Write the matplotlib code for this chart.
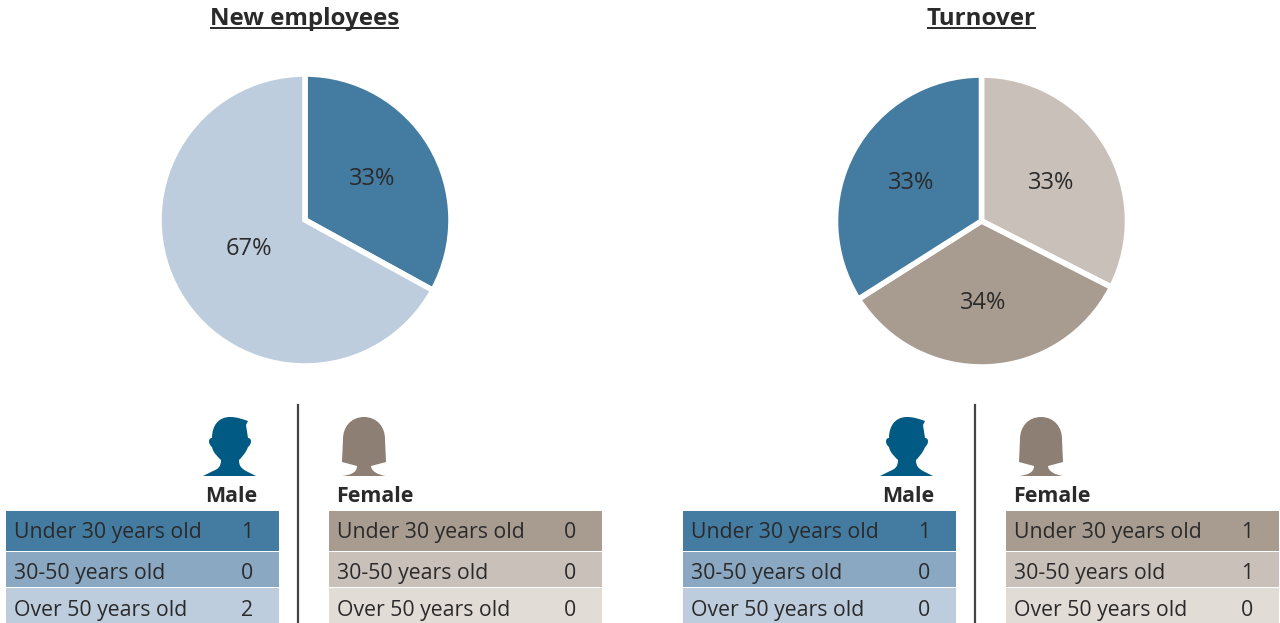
#!/usr/bin/env python3
"""New employees and turnover by gender and age: two pies and four small tables."""

import matplotlib
matplotlib.use("Agg")
import matplotlib.pyplot as plt
from matplotlib.patches import PathPatch, Rectangle
from matplotlib.path import Path

W, H = 1280, 623

titles = ["New employees", "Turnover"]

new_shares = [33, 67]
new_labels = ["33%", "67%"]
new_colors = ["#447ba1", "#bdcddd"]
# slice sizes as drawn in the picture, the printed labels are rounded differently
turnover_shares = [32.5, 33.5, 34]
turnover_labels = ["33%", "34%", "33%"]
turnover_colors = ["#c9c0ba", "#a89b90", "#447ba1"]

age_groups = ["Under 30 years old", "30-50 years old", "Over 50 years old"]
new_male = [1, 0, 2]
new_female = [0, 0, 0]
turnover_male = [1, 0, 0]
turnover_female = [1, 1, 0]

male_colors = ["#447ba1", "#8ba8c2", "#bdcddd"]
female_colors = ["#a89b90", "#c9c0ba", "#e1dcd6"]

TEXT = "#2b2a2b"
plt.rcParams["font.family"] = ["Open Sans", "DejaVu Sans"]

MALE_ICON = [
    (Path.MOVETO, (27, 0)), (Path.CURVE4, (34, 0)), (Path.CURVE4, (39, 2)), (Path.CURVE4, (45, 4)),
    (Path.LINETO, (43, 8)), (Path.LINETO, (45, 21)), (Path.CURVE4, (49, 21)), (Path.CURVE4, (49, 27)),
    (Path.CURVE4, (45, 30)), (Path.CURVE4, (43, 36)), (Path.CURVE4, (38, 41)), (Path.CURVE4, (36, 43)),
    (Path.CURVE4, (36, 49)), (Path.CURVE4, (38, 51)), (Path.CURVE4, (43, 54)), (Path.LINETO, (53, 59)),
    (Path.LINETO, (0, 59)), (Path.LINETO, (10, 54)), (Path.CURVE4, (15, 52)), (Path.CURVE4, (18, 50)),
    (Path.CURVE4, (18, 43)), (Path.CURVE4, (16, 41)), (Path.CURVE4, (10, 36)), (Path.CURVE4, (9, 30)),
    (Path.CURVE4, (5, 27)), (Path.CURVE4, (5, 21)), (Path.CURVE4, (9, 21)), (Path.CURVE4, (9, 8)),
    (Path.CURVE4, (16, 0)), (Path.CURVE4, (27, 0)), (Path.CLOSEPOLY, (27, 0)),
]
FEMALE_ICON = [
    (Path.MOVETO, (22, 0)), (Path.CURVE4, (35, 0)), (Path.CURVE4, (43, 10)), (Path.CURVE4, (43, 22)),
    (Path.LINETO, (44, 45)), (Path.LINETO, (29, 49)), (Path.CURVE4, (29, 54)), (Path.CURVE4, (36, 58)),
    (Path.LINETO, (44, 59)), (Path.LINETO, (0, 59)), (Path.CURVE4, (8, 58)), (Path.CURVE4, (15, 56)),
    (Path.CURVE4, (15, 49)), (Path.LINETO, (0, 45)), (Path.LINETO, (1, 22)), (Path.CURVE4, (1, 10)),
    (Path.CURVE4, (9, 0)), (Path.CURVE4, (22, 0)), (Path.CLOSEPOLY, (22, 0)),
]


def draw_icon(ax, shape, x, y, color):
    codes = [c for c, _ in shape]
    verts = [(x + p[0], y + p[1]) for _, p in shape]
    ax.add_patch(PathPatch(Path(verts, codes), facecolor=color, edgecolor="none"))


def draw_table(ax, x, values, colors):
    tops = [511, 552, 588]
    bottoms = [551, 587, 623]
    text_y = [532.5, 573.5, 610.5]
    for label, val, color, top, bottom, y in zip(age_groups, values, colors, tops, bottoms, text_y):
        ax.add_patch(Rectangle((x, top), 272.5, bottom - top, facecolor=color, edgecolor="none"))
        ax.text(x + 8, y, label, fontsize=15.3, color=TEXT, va="center")
        ax.text(x + 241, y, str(val), fontsize=15.3, color=TEXT, va="center", ha="center")


def draw_pie(fig, cx, cy, r, shares, labels, colors, label_pos):
    ax = fig.add_axes([(cx - r) / W, 1 - (cy + r) / H, 2 * r / W, 2 * r / H])
    ax.pie(shares, colors=colors, startangle=90, counterclock=False, radius=1,
           wedgeprops={"edgecolor": "white", "linewidth": 4})
    ax.set_xlim(-1, 1)
    ax.set_ylim(-1, 1)
    for label, (x, y) in zip(labels, label_pos):
        ax.text(x, y, label, fontsize=17, color=TEXT, ha="center", va="center")
    return ax


def main():
    fig = plt.figure(figsize=(W / 100, H / 100), dpi=100, facecolor="white")

    ax = fig.add_axes([0, 0, 1, 1])
    ax.set_xlim(0, W)
    ax.set_ylim(H, 0)
    ax.axis("off")

    for title, cx in zip(titles, [305, 981]):
        ax.text(cx, 19, title, fontsize=17.4, fontweight="bold", color=TEXT, ha="center", va="center")
    ax.plot([210, 399], [28, 28], color=TEXT, lw=1.4, solid_capstyle="butt")
    ax.plot([927, 1036], [28, 28], color=TEXT, lw=1.4, solid_capstyle="butt")

    for offset, male, female in [(0, new_male, new_female), (677, turnover_male, turnover_female)]:
        ax.plot([298 + offset, 298 + offset], [405, 623], color="#444444", lw=1.6)
        draw_icon(ax, MALE_ICON, 203 + offset, 417, "#005a83")
        draw_icon(ax, FEMALE_ICON, 342 + offset, 417, "#8d7f73")
        ax.text(257 + offset, 497, "Male", fontsize=15.4, fontweight="bold", color=TEXT, ha="right", va="center")
        ax.text(336 + offset, 497, "Female", fontsize=15.4, fontweight="bold", color=TEXT, va="center")
        draw_table(ax, 6 + offset, male, male_colors)
        draw_table(ax, 329 + offset, female, female_colors)

    draw_pie(fig, 305, 220, 146, new_shares, new_labels, new_colors,
             [(0.46, 0.28), (-0.385, -0.2)])
    draw_pie(fig, 981.5, 221, 146, turnover_shares, turnover_labels, turnover_colors,
             [(0.475, 0.26), (0.01, -0.56), (-0.48, 0.26)])

    fig.savefig("out.png", dpi=100)
    plt.close(fig)


if __name__ == "__main__":
    main()
